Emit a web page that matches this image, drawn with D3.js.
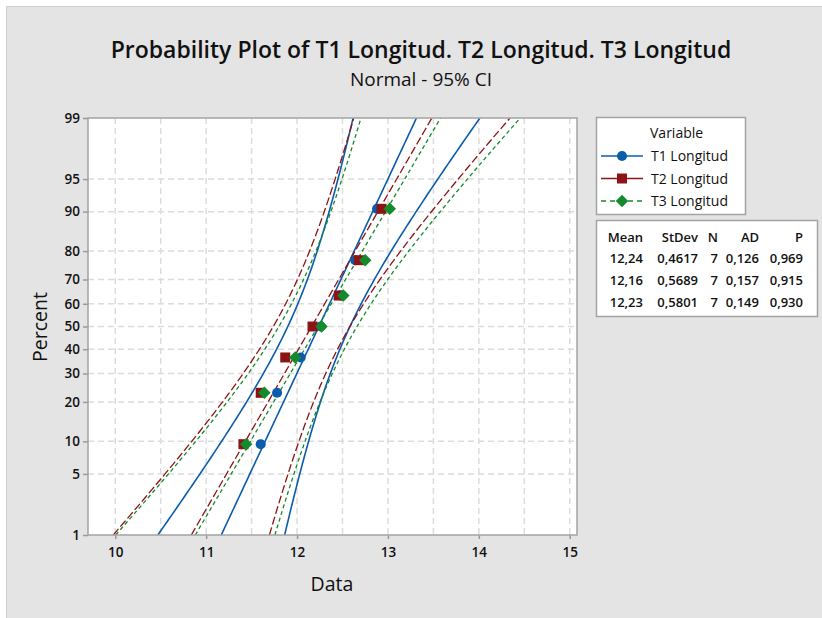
<!DOCTYPE html>
<html lang="en">
<head>
<meta charset="UTF-8">
<title>Probability Plot</title>
<script src="https://cdn.jsdelivr.net/npm/d3@7"></script>
<style>
  body { margin: 0; background: #fff; }
  svg { display: block; font-family: "Open Sans", "Noto Sans", sans-serif; }
</style>
</head>
<body>
<svg width="822" height="618"></svg>
<script>
// ---- data ----
var seriesNames = ["T1 Longitud", "T2 Longitud", "T3 Longitud"];
var t1 = [11.60, 11.78, 12.04, 12.26, 12.48, 12.64, 12.88];
var t2 = [11.41, 11.60, 11.87, 12.17, 12.46, 12.68, 12.93];
var t3 = [11.44, 11.64, 11.98, 12.27, 12.51, 12.75, 13.02];
var means = [12.24, 12.16, 12.23];
var stdevs = [0.4617, 0.5689, 0.5801];
var counts = [7, 7, 7];
var adStats = [0.126, 0.157, 0.149];
var pValues = [0.969, 0.915, 0.930];
var percentTicks = [1, 5, 10, 20, 30, 40, 50, 60, 70, 80, 90, 95, 99];
var dataTicks = [10, 11, 12, 13, 14, 15];
var colors = ["#0b5cad", "#8c1414", "#138a2c"];

var svg = d3.select("svg");

// inverse normal cdf (Acklam)
function probit(p) {
    var a = [-39.69683028665376, 220.9460984245205, -275.9285104469687, 138.3577518672690, -30.66479806614716, 2.506628277459239];
    var b = [-54.47609879822406, 161.5858368580409, -155.6989798598866, 66.80131188771972, -13.28068155288572];
    var c = [-0.007784894002430293, -0.3223964580411365, -2.400758277161838, -2.549732539343734, 4.374664141464968, 2.938163982698783];
    var d = [0.007784695709041462, 0.3224671290700398, 2.445134137142996, 3.754408661907416];
    var q, r;
    if (p < 0.02425) {
        q = Math.sqrt(-2 * Math.log(p));
        return (((((c[0]*q+c[1])*q+c[2])*q+c[3])*q+c[4])*q+c[5]) / ((((d[0]*q+d[1])*q+d[2])*q+d[3])*q+1);
    }
    if (p > 1 - 0.02425) {
        q = Math.sqrt(-2 * Math.log(1 - p));
        return -(((((c[0]*q+c[1])*q+c[2])*q+c[3])*q+c[4])*q+c[5]) / ((((d[0]*q+d[1])*q+d[2])*q+d[3])*q+1);
    }
    q = p - 0.5; r = q * q;
    return (((((a[0]*r+a[1])*r+a[2])*r+a[3])*r+a[4])*r+a[5])*q / (((((b[0]*r+b[1])*r+b[2])*r+b[3])*r+b[4])*r+1);
}

// background panel
svg.append("rect").attr("x", 0).attr("y", 0).attr("width", 822).attr("height", 618).attr("fill", "#fff");
svg.append("rect").attr("x", 6.5).attr("y", 6.5).attr("width", 820).attr("height", 620)
    .attr("fill", "#e4e4e4").attr("stroke", "#cfcfcf");

var plot = {left: 88, top: 118, right: 577, bottom: 535};

var x = d3.scaleLinear().domain([9.7, 15.08]).range([plot.left, plot.right]);
var y = d3.scaleLinear().domain([probit(0.01), probit(0.99)]).range([plot.bottom, plot.top]);

svg.append("rect").attr("x", plot.left).attr("y", plot.top)
    .attr("width", plot.right - plot.left).attr("height", plot.bottom - plot.top)
    .attr("fill", "#fff");

// grid
var grid = svg.append("g").attr("stroke", "#dcdcdc").attr("stroke-width", 1.5).attr("stroke-dasharray", "6,4");
d3.range(10, 15.01, 0.5).forEach(function (v) {
    grid.append("line").attr("x1", x(v)).attr("x2", x(v)).attr("y1", plot.top).attr("y2", plot.bottom);
});
percentTicks.slice(1, -1).forEach(function (p) {
    grid.append("line").attr("x1", plot.left).attr("x2", plot.right)
        .attr("y1", y(probit(p / 100))).attr("y2", y(probit(p / 100)));
});

// axes
var yAxis = svg.append("g").attr("transform", "translate(" + plot.left + ",0)")
    .call(d3.axisLeft(y).tickValues(percentTicks.map(function (p) { return probit(p / 100); }))
        .tickFormat(function (d, i) { return percentTicks[i]; }).tickSize(5).tickPadding(3));
var xAxis = svg.append("g").attr("transform", "translate(0," + plot.bottom + ")")
    .call(d3.axisBottom(x).tickValues(dataTicks).tickFormat(d3.format("d")).tickSize(4).tickPadding(8));
[yAxis, xAxis].forEach(function (a) {
    a.select(".domain").remove();
    a.selectAll(".tick line").attr("stroke", "#9a9a9a").attr("stroke-width", 1.5);
    a.selectAll("text").attr("font-family", "Open Sans").attr("font-size", 13.5)
        .attr("font-weight", 600).attr("fill", "#111");
});

svg.append("defs").append("clipPath").attr("id", "clip").append("rect")
    .attr("x", plot.left).attr("y", plot.top).attr("width", plot.right - plot.left).attr("height", plot.bottom - plot.top);

// fitted lines + 95% CI
var zs = d3.range(0, 101).map(function (i) { return probit(0.01) + i * (probit(0.99) - probit(0.01)) / 100; });
var dashes = [null, "8,3", "4,3"];
var lines = svg.append("g").attr("clip-path", "url(#clip)");
var lineGen = d3.line().x(function (d) { return x(d[0]); }).y(function (d) { return y(d[1]); });
means.forEach(function (m, s) {
    var sd = stdevs[s], n = counts[s];
    [-1, 0, 1].forEach(function (k) {
        var pts = zs.map(function (z) {
            var se = sd * Math.sqrt(1 / n + z * z / (2 * (n - 1)));
            return [m + z * sd + k * 1.96 * se, z];
        });
        lines.append("path").attr("d", lineGen(pts)).attr("fill", "none")
            .attr("stroke", colors[s]).attr("stroke-width", s === 0 ? 1.6 : 1.3)
            .attr("stroke-dasharray", dashes[s]);
    });
});

// points, median rank plotting positions
// diamond = square turned 45 degrees
var symbols = [d3.symbolCircle, d3.symbolSquare, d3.symbolSquare];
var sizes = [80, 100, 78];
var turns = [0, 0, 45];
[t1, t2, t3].forEach(function (vals, s) {
    var n = vals.length;
    svg.append("g").selectAll("path").data(vals).join("path")
        .attr("d", d3.symbol().type(symbols[s]).size(sizes[s]))
        .attr("transform", function (d, i) {
            return "translate(" + x(d) + "," + y(probit((i + 1 - 0.3) / (n + 0.4))) + ") rotate(" + turns[s] + ")";
        })
        .attr("fill", colors[s]);
});

// plot border
svg.append("rect").attr("x", plot.left).attr("y", plot.top)
    .attr("width", plot.right - plot.left).attr("height", plot.bottom - plot.top)
    .attr("fill", "none").attr("stroke", "#a3a3a3").attr("stroke-width", 1.5);

// titles
svg.append("text").attr("x", 421).attr("y", 58).attr("text-anchor", "middle")
    .attr("font-size", 23).attr("font-weight", 600).attr("fill", "#111")
    .text("Probability Plot of T1 Longitud. T2 Longitud. T3 Longitud");
svg.append("text").attr("x", 421).attr("y", 86).attr("text-anchor", "middle")
    .attr("font-size", 19).attr("fill", "#111").text("Normal - 95% CI");
svg.append("text").attr("x", 332).attr("y", 591).attr("text-anchor", "middle")
    .attr("font-size", 19.5).attr("fill", "#111").text("Data");
svg.append("text").attr("transform", "translate(47,327) rotate(-90)").attr("text-anchor", "middle")
    .attr("font-size", 19.5).attr("fill", "#111").text("Percent");

// legend
var leg = svg.append("g");
leg.append("rect").attr("x", 596.5).attr("y", 117.5).attr("width", 149).attr("height", 97)
    .attr("fill", "#fff").attr("stroke", "#a3a3a3").attr("stroke-width", 1.5);
leg.append("text").attr("x", 650).attr("y", 138).attr("font-size", 14).attr("fill", "#111").text("Variable");
seriesNames.forEach(function (name, s) {
    var cy = 156 + s * 22.5;
    leg.append("line").attr("x1", 601).attr("x2", 643).attr("y1", cy).attr("y2", cy)
        .attr("stroke", colors[s]).attr("stroke-width", 1.6).attr("stroke-dasharray", s === 2 ? "5,4" : null);
    leg.append("path").attr("d", d3.symbol().type(symbols[s]).size(sizes[s])())
        .attr("transform", "translate(622," + cy + ") rotate(" + turns[s] + ")").attr("fill", colors[s]);
    leg.append("text").attr("x", 651).attr("y", cy + 5).attr("font-size", 14).attr("fill", "#111").text(name);
});

// statistics table
var tab = svg.append("g");
tab.append("rect").attr("x", 596.5).attr("y", 220.5).attr("width", 221).attr("height", 96)
    .attr("fill", "#fff").attr("stroke", "#a3a3a3").attr("stroke-width", 1.5);
var colRight = [643, 698, 718, 759, 803];
var headers = ["Mean", "StDev", "N", "AD", "P"];
var comma = function (f) { return function (v) { return f(v).replace(".", ","); }; };
var fmts = [comma(d3.format(".2f")), comma(d3.format(".4f")), d3.format("d"), comma(d3.format(".3f")), comma(d3.format(".3f"))];
headers.forEach(function (h, c) {
    tab.append("text").attr("x", colRight[c]).attr("y", 242).attr("text-anchor", "end")
        .attr("font-size", 13).attr("font-weight", 600).attr("fill", "#111").text(h);
});
means.forEach(function (m, s) {
    var row = [m, stdevs[s], counts[s], adStats[s], pValues[s]];
    row.forEach(function (v, c) {
        tab.append("text").attr("x", colRight[c]).attr("y", 263 + s * 22).attr("text-anchor", "end")
            .attr("font-size", 13).attr("font-weight", 600).attr("fill", "#111").text(fmts[c](v));
    });
});
</script>
</body>
</html>
